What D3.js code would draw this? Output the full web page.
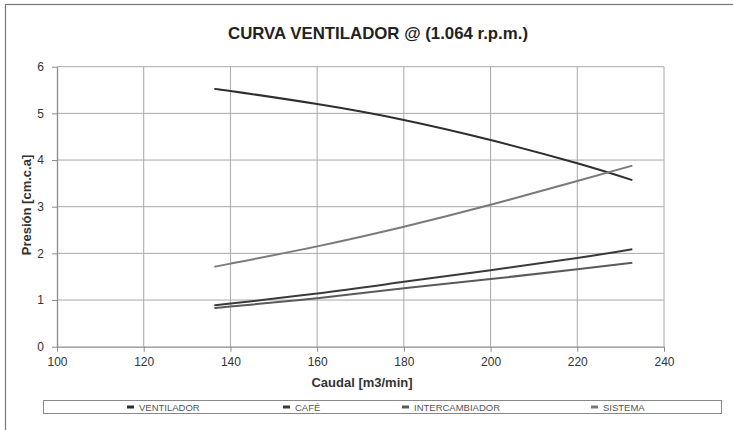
<!DOCTYPE html>
<html>
<head>
<meta charset="utf-8">
<script src="https://cdn.jsdelivr.net/npm/d3@7"></script>
<style>
  html, body { margin: 0; padding: 0; background: #fff; }
  svg { display: block; font-family: "Liberation Sans", Arial, sans-serif; }
</style>
</head>
<body>
<svg id="chart" width="733" height="430"></svg>
<script>
// ---- data ----
const title = "CURVA VENTILADOR @ (1.064 r.p.m.)";
const xTitle = "Caudal [m3/min]";
const yTitle = "Presión [cm.c.a]";
const caudal = [136.7, 140, 160, 180, 200, 220, 232.7];
const ventilador = [5.52, 5.48, 5.20, 4.86, 4.43, 3.93, 3.57];
const cafe = [0.89, 0.925, 1.14, 1.39, 1.64, 1.90, 2.09];
const intercambiador = [0.83, 0.86, 1.04, 1.25, 1.45, 1.66, 1.80];
const sistema = [1.72, 1.78, 2.15, 2.57, 3.04, 3.55, 3.88];
const seriesNames = ["VENTILADOR", "CAFÉ", "INTERCAMBIADOR", "SISTEMA"];
const seriesValues = [ventilador, cafe, intercambiador, sistema];
const seriesColors = ["#2e2e2e", "#3a3a3a", "#5a5a5a", "#7a7a7a"];
const xTicks = [100, 120, 140, 160, 180, 200, 220, 240];
const yTicks = [0, 1, 2, 3, 4, 5, 6];

const svg = d3.select("#chart");

// outer chart border (partly cropped)
svg.append("rect").attr("x", 5.5).attr("y", 4.5).attr("width", 760).attr("height", 460)
  .attr("fill", "none").attr("stroke", "#777").attr("stroke-width", 1.2);

const plot = { left: 57, right: 664, top: 66.7, bottom: 346.7 };
const x = d3.scaleLinear().domain([100, 240]).range([plot.left, plot.right]);
const y = d3.scaleLinear().domain([0, 6]).range([plot.bottom, plot.top]);

// gridlines
svg.append("g").selectAll("line.v").data(xTicks.slice(1)).join("line")
  .attr("x1", d => x(d)).attr("x2", d => x(d))
  .attr("y1", plot.top).attr("y2", plot.bottom)
  .attr("stroke", "#a8a8a8").attr("stroke-width", 1);
svg.append("g").selectAll("line.h").data(yTicks.slice(1)).join("line")
  .attr("x1", plot.left).attr("x2", plot.right)
  .attr("y1", d => y(d)).attr("y2", d => y(d))
  .attr("stroke", "#a8a8a8").attr("stroke-width", 1);

// axes
const xAxis = svg.append("g").attr("transform", `translate(0,${plot.bottom})`)
  .call(d3.axisBottom(x).tickValues(xTicks).tickFormat(d3.format("d"))
    .tickSize(5).tickSizeOuter(0).tickPadding(6));
const yAxis = svg.append("g").attr("transform", `translate(${plot.left},0)`)
  .call(d3.axisLeft(y).tickValues(yTicks).tickFormat(d3.format("d"))
    .tickSize(5).tickSizeOuter(0).tickPadding(8));
[xAxis, yAxis].forEach(a => {
  a.select(".domain").attr("stroke", "#8a8a8a").attr("stroke-width", 1.3);
  a.selectAll(".tick line").attr("stroke", "#8a8a8a");
  a.selectAll(".tick text").attr("fill", "#333").attr("font-size", 12)
    .attr("font-family", "Liberation Sans, Arial, sans-serif");
});

// series lines
const line = d3.line().x(d => x(d[0])).y(d => y(d[1])).curve(d3.curveNatural);
seriesValues.forEach((vals, i) => {
  svg.append("path")
    .datum(caudal.map((c, j) => [c, vals[j]]))
    .attr("d", line)
    .attr("fill", "none")
    .attr("stroke", seriesColors[i])
    .attr("stroke-width", 2);
});

// titles
svg.append("text").attr("x", 378).attr("y", 39).attr("text-anchor", "middle")
  .attr("font-size", 17).attr("font-weight", "bold").attr("fill", "#222")
  .attr("textLength", 300).attr("lengthAdjust", "spacingAndGlyphs")
  .text(title);
svg.append("text").attr("x", 362).attr("y", 387).attr("text-anchor", "middle")
  .attr("font-size", 13).attr("font-weight", "bold").attr("fill", "#333")
  .text(xTitle);
svg.append("text").attr("transform", "translate(31,205) rotate(-90)")
  .attr("text-anchor", "middle").attr("font-size", 13).attr("font-weight", "bold")
  .attr("fill", "#333").text(yTitle);

// legend
svg.append("rect").attr("x", 43.5).attr("y", 400.5).attr("width", 678).attr("height", 13)
  .attr("fill", "#fff").attr("stroke", "#888").attr("stroke-width", 1);
const legendX = [127, 283, 402, 591];
const lg = svg.append("g").selectAll("g").data(seriesNames).join("g")
  .attr("transform", (d, i) => `translate(${legendX[i]},407)`);
lg.append("line").attr("x1", 0).attr("x2", 7).attr("y1", 0).attr("y2", 0)
  .attr("stroke", (d, i) => seriesColors[i]).attr("stroke-width", 3);
lg.append("text").attr("x", 12).attr("y", 3.5).attr("font-size", 9.5)
  .attr("fill", "#555").text(d => d);
</script>
</body>
</html>
